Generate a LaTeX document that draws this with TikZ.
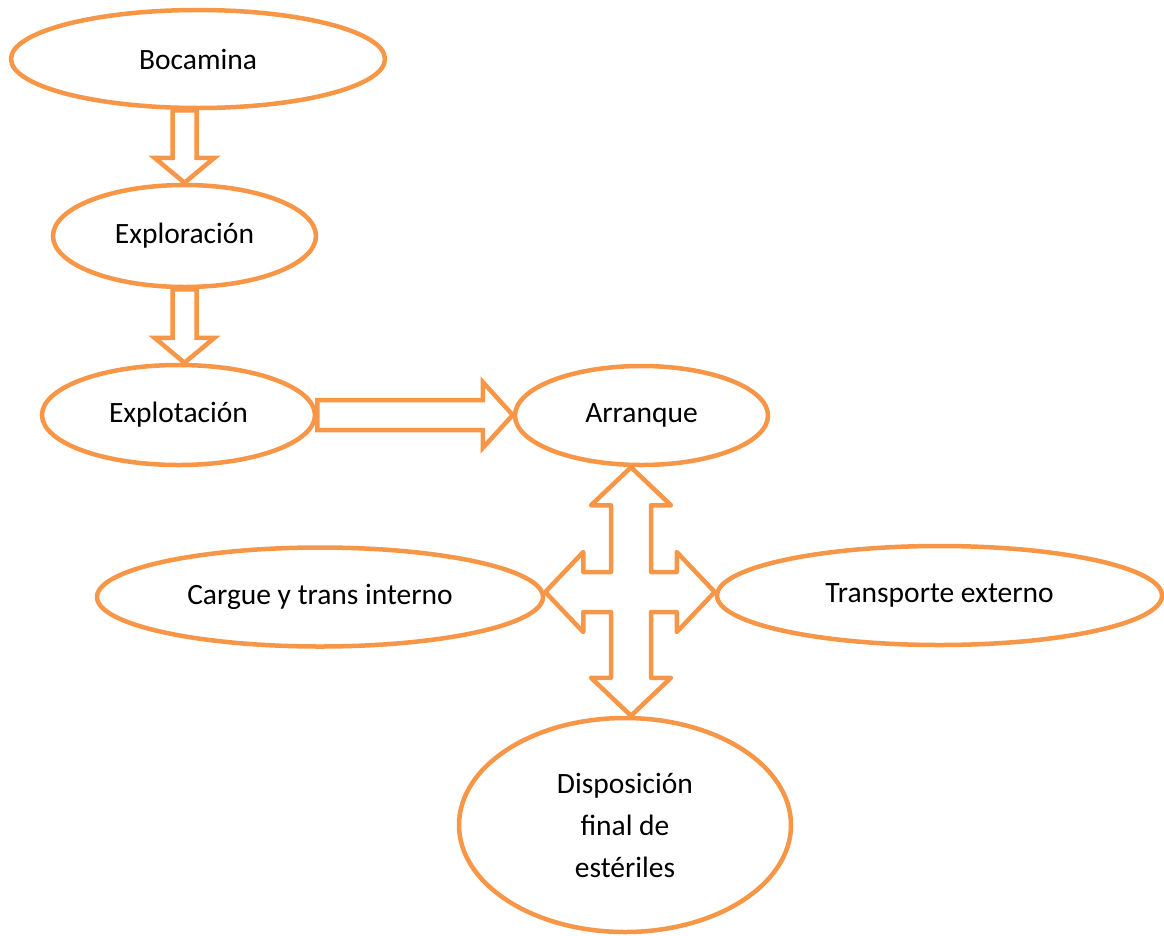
\documentclass[tikz,border=0pt]{standalone}
\usepackage{fontspec}
\setmainfont{Carlito}
\usetikzlibrary{shapes.geometric,calc}
\definecolor{orng}{HTML}{F79646}
\tikzset{
  ell/.style={ellipse, draw=orng, line width=4.5pt, fill=white, inner sep=0pt,
    font=\fontsize{29.5}{42}\selectfont, text=black, align=center},
  blk/.style={draw=orng, line width=4.5pt, fill=white, line join=miter},
  quad/.style={draw=orng, line width=4.5pt, fill=white, line join=round}
}
\begin{document}
\begin{tikzpicture}[x=1pt,y=-1pt]
\useasboundingbox (0,0) rectangle (1164,935);
\node[ell, minimum width=374pt, minimum height=98pt] (boc) at (198,59) {Bocamina};
\node[ell, minimum width=263pt, minimum height=102pt] (exp) at (184.5,236) {Exploración};
\node[ell, minimum width=273pt, minimum height=100pt] (expt) at (178.5,415) {Explotación};
\node[ell, minimum width=253pt, minimum height=99pt] (arr) at (641.5,415.5) {Arranque};
\node[ell, minimum width=446pt, minimum height=99pt] (carg) at (320,597) {Cargue y trans interno};
\node[ell, minimum width=445pt, minimum height=99pt] (trans) at (939.5,595.5) {Transporte externo};
\node[ell, minimum width=332pt, minimum height=214pt] (disp) at (625,825) {Disposición\\final de\\estériles};
\coordinate (hub) at (631,592);
% Bocamina -> Exploracion
\draw[blk] let \p1=(boc.south), \p2=(exp.north) in
  (\x2-12pt,\y1) -- (\x2-12pt,\y2+25pt) -- (\x2-30pt,\y2+25pt) -- (\x2,\y2)
  -- (\x2+30pt,\y2+25pt) -- (\x2+12pt,\y2+25pt) -- (\x2+12pt,\y1) -- cycle;
% Exploracion -> Explotacion
\draw[blk] let \p1=(exp.south), \p2=(expt.north) in
  (\x1-12pt,\y1) -- (\x1-12pt,\y2+25pt) -- (\x1-30pt,\y2+25pt) -- (\x1,\y2)
  -- (\x1+30pt,\y2+25pt) -- (\x1+12pt,\y2+25pt) -- (\x1+12pt,\y1) -- cycle;
% Explotacion -> Arranque
\draw[blk] let \p1=(expt.east), \p2=(arr.west) in
  (\x1,\y1+15pt) -- (\x2-30pt,\y1+15pt) -- (\x2-30pt,\y1+33pt) -- (\x2,\y1)
  -- (\x2-30pt,\y1-33pt) -- (\x2-30pt,\y1-15pt) -- (\x1,\y1-15pt) -- cycle;
% four-way arrow
\draw[quad] let \p0=(hub), \p1=(arr.south), \p2=(disp.north), \p3=(carg.east), \p4=(trans.west) in
  (\x0,\y1) -- (\x0+40pt,\y1-38pt) -- (\x0+20pt,\y1-38pt) -- (\x0+20pt,\y0+20pt)
  -- (\x4-38pt,\y0+20pt) -- (\x4-38pt,\y0+40pt) -- (\x4,\y0) -- (\x4-38pt,\y0-40pt)
  -- (\x4-38pt,\y0-20pt) -- (\x0+20pt,\y0-20pt) -- (\x0+20pt,\y2+38pt) -- (\x0+40pt,\y2+38pt)
  -- (\x0,\y2) -- (\x0-40pt,\y2+38pt) -- (\x0-20pt,\y2+38pt) -- (\x0-20pt,\y0-20pt)
  -- (\x3+38pt,\y0-20pt) -- (\x3+38pt,\y0-40pt) -- (\x3,\y0) -- (\x3+38pt,\y0+40pt)
  -- (\x3+38pt,\y0+20pt) -- (\x0-20pt,\y0+20pt) -- (\x0-20pt,\y1-38pt) -- (\x0-40pt,\y1-38pt) -- cycle;
\end{tikzpicture}
\end{document}
